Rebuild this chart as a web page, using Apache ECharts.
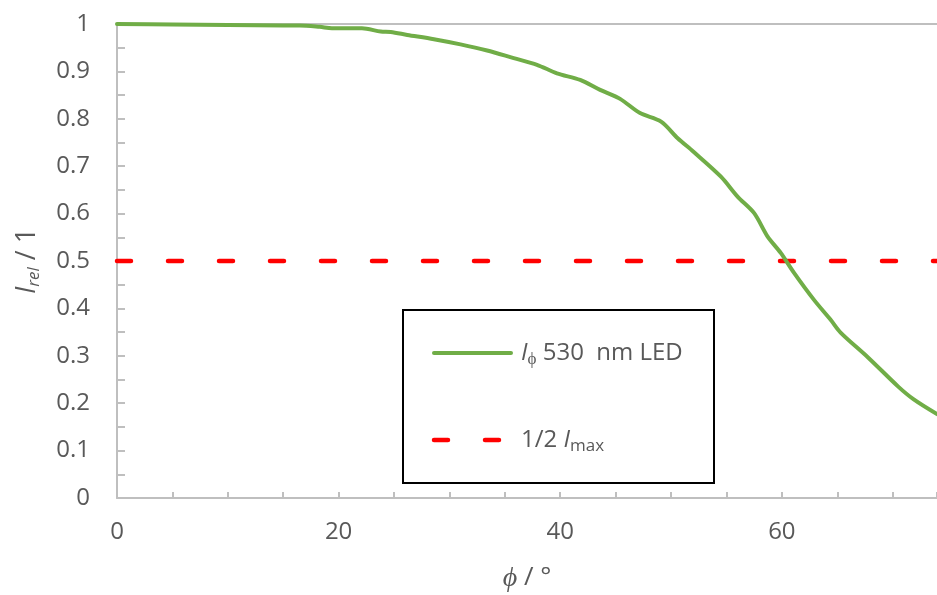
<!DOCTYPE html>
<html>
<head>
<meta charset="utf-8">
<script src="https://cdn.jsdelivr.net/npm/echarts@6/dist/echarts.min.js"></script>
<style>html,body{margin:0;padding:0;background:#fff;}#c{width:937px;height:595px;}</style>
</head>
<body>
<div id="c"></div>
<script>
const phi = [0, 5, 10, 15, 16.5, 18.3, 19.4, 22.1, 23.8, 24.7, 26.2, 28.6, 31.0, 33.4, 35.8, 37.9, 39.7, 41.8, 43.6, 45.4, 47.2, 49.1, 50.6, 52.0, 54.5, 56.0, 57.5, 58.7, 59.9, 61.1, 62.9, 64.4, 65.3, 67.8, 70.5, 71.9, 74];
const irel = [1, 0.999, 0.998, 0.997, 0.997, 0.994, 0.991, 0.991, 0.984, 0.983, 0.977, 0.968, 0.957, 0.944, 0.928, 0.914, 0.896, 0.882, 0.861, 0.842, 0.812, 0.794, 0.759, 0.731, 0.678, 0.636, 0.601, 0.552, 0.517, 0.475, 0.418, 0.376, 0.349, 0.296, 0.235, 0.208, 0.177];
const halfX = [0, 74];
const halfY = [0.5, 0.5];
const xLabels = [0, 20, 40, 60];
const seriesNames = ['I_phi 530 nm LED', '1/2 I_max'];

const FONT = 'Open Sans';
const TXT = '#595959';
const AX = '#BFBFBF';
const GREEN = '#70AD47';
const RED = '#FF0000';

const legendRich = {
  i: {fontStyle: 'italic', fontSize: 24, lineHeight: 30, fill: TXT, fontFamily: FONT},
  s: {fontSize: 17, lineHeight: 15, verticalAlign: 'bottom', fill: TXT, fontFamily: FONT},
  t: {fontSize: 24, lineHeight: 30, fill: TXT, fontFamily: FONT}
};

const chart = echarts.init(document.getElementById('c'), null, {renderer: 'canvas'});
chart.setOption({
  animation: false,
  backgroundColor: '#fff',
  grid: {left: 117, right: 0, top: 24, bottom: 97, containLabel: false, outerBoundsMode: 'none'},
  xAxis: [{
    type: 'value', min: 0, max: 74, interval: 5, position: 'bottom',
    axisLine: {show: true, onZero: false, lineStyle: {color: AX, width: 2}},
    axisTick: {show: true, inside: true, length: 6, lineStyle: {color: AX, width: 2}},
    splitLine: {show: false},
    axisLabel: {
      color: TXT, fontFamily: FONT, fontSize: 24, margin: 22, showMaxLabel: true,
      formatter: v => xLabels.indexOf(v) >= 0 ? String(v) : ''
    },
    name: '{i|ϕ}{n| / °}', nameLocation: 'middle', nameGap: 66,
    nameTextStyle: {
      color: TXT, fontFamily: FONT, fontSize: 26,
      rich: {i: {fontStyle: 'italic', fontSize: 28, color: TXT, fontFamily: FONT}, n: {fontSize: 26, color: TXT, fontFamily: FONT}}
    }
  }, {
    type: 'value', min: 0, max: 74, position: 'top',
    axisLine: {show: true, onZero: false, lineStyle: {color: AX, width: 2}},
    axisTick: {show: false}, axisLabel: {show: false}, splitLine: {show: false}
  }],
  yAxis: {
    type: 'value', min: 0, max: 1, interval: 0.1,
    axisLine: {show: true, onZero: false, lineStyle: {color: AX, width: 2}},
    axisTick: {show: true, inside: true, length: 8, lineStyle: {color: AX, width: 2}},
    minorTick: {show: true, splitNumber: 2, length: 8, lineStyle: {color: AX, width: 2}},
    splitLine: {show: false},
    axisLabel: {color: TXT, fontFamily: FONT, fontSize: 24, margin: 27},
    name: '{i|I}{s|rel}{n| / 1}', nameLocation: 'middle', nameRotate: 90, nameGap: 74,
    nameTextStyle: {
      color: TXT, fontFamily: FONT, fontSize: 26,
      rich: {
        i: {fontStyle: 'italic', fontSize: 27, lineHeight: 32, color: TXT, fontFamily: FONT},
        s: {fontStyle: 'italic', fontSize: 17, lineHeight: 17, verticalAlign: 'bottom', color: TXT, fontFamily: FONT},
        n: {fontSize: 27, lineHeight: 32, color: TXT, fontFamily: FONT}
      }
    }
  },
  graphic: [{
    type: 'group', z: 10,
    children: [{
      type: 'rect', shape: {x: 403, y: 310, width: 311, height: 173},
      style: {fill: '#fff', stroke: '#000', lineWidth: 2}
    }, {
      type: 'line', shape: {x1: 434, y1: 353, x2: 511, y2: 353},
      style: {stroke: GREEN, lineWidth: 4, lineCap: 'round'}
    }, {
      type: 'line', shape: {x1: 434, y1: 440, x2: 513, y2: 440},
      style: {stroke: RED, lineWidth: 4.5, lineCap: 'round', lineDash: [14, 37]}
    }, {
      type: 'text',
      style: {x: 521, y: 353, text: '{i|I}{s|ϕ}{t| 530  nm LED}', verticalAlign: 'middle', align: 'left', rich: legendRich, fill: TXT, font: '24px ' + FONT}
    }, {
      type: 'text',
      style: {x: 521, y: 440, text: '{t|1/2 }{i|I}{s|max}', verticalAlign: 'middle', align: 'left', rich: legendRich, fill: TXT, font: '24px ' + FONT}
    }]
  }],
  series: [{
    name: seriesNames[0], type: 'line', smooth: 0.3, showSymbol: false, symbol: 'none',
    data: phi.map((p, i) => [p, irel[i]]),
    lineStyle: {color: GREEN, width: 4, cap: 'round', join: 'round'},
    itemStyle: {color: GREEN}, z: 3
  }, {
    name: seriesNames[1], type: 'line', showSymbol: false, symbol: 'none',
    data: halfX.map((p, i) => [p, halfY[i]]),
    lineStyle: {color: RED, width: 4.5, type: [14, 37], cap: 'round'},
    itemStyle: {color: RED}, z: 2
  }]
});
</script>
</body>
</html>
